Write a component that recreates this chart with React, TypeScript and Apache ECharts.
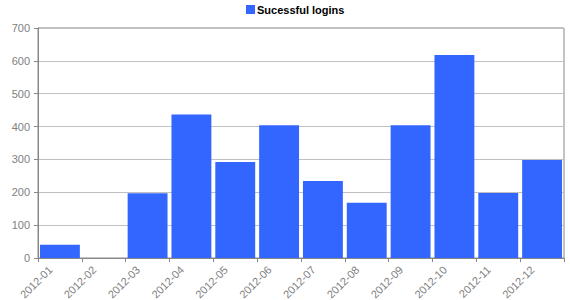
import React, { useEffect, useRef } from "react";
import * as echarts from "echarts";

const categories = [
  "2012-01", "2012-02", "2012-03", "2012-04", "2012-05", "2012-06",
  "2012-07", "2012-08", "2012-09", "2012-10", "2012-11", "2012-12",
];
const logins = [40, 0, 197, 437, 292, 404, 234, 168, 404, 618, 198, 298];
const seriesName = "Sucessful logins";

export default function App() {
  const ref = useRef<HTMLDivElement>(null);
  useEffect(() => {
    if (!ref.current) return;
    const chart = echarts.init(ref.current, null, { renderer: "svg" });
    chart.setOption({
      animation: false,
      textStyle: { fontFamily: "Arial, 'Liberation Sans', sans-serif" },
      legend: {
        show: true,
        left: 246,
        top: 4,
        padding: 0,
        itemWidth: 9,
        itemHeight: 9,
        itemGap: 2,
        icon: "rect",
        textStyle: { fontSize: 11, fontWeight: "bold", color: "#000", padding: [0, 0, 0, -3] },
        data: [seriesName],
      },
      grid: {
        left: 38,
        right: 6,
        top: 28,
        bottom: 42,
        show: true,
        borderColor: "#888",
        borderWidth: 1,
        outerBoundsMode: "none",
        containLabel: false,
      },
      xAxis: {
        type: "category",
        data: categories,
        axisLine: { lineStyle: { color: "#888" } },
        axisTick: { show: true, length: 4, lineStyle: { color: "#888" } },
        axisLabel: {
          rotate: 45,
          color: "#808080",
          fontSize: 11,
          margin: 8,
          interval: 0,
          verticalAlign: "bottom",
          padding: [0, 8, 0, 0],
        },
      },
      yAxis: {
        type: "value",
        min: 0,
        max: 700,
        interval: 100,
        axisLine: { show: true, lineStyle: { color: "#888" } },
        axisTick: { show: true, length: 4, lineStyle: { color: "#888" } },
        axisLabel: { color: "#808080", fontSize: 11, margin: 8 },
        splitLine: { lineStyle: { color: "#c0c0c0" } },
      },
      series: [
        {
          name: seriesName,
          type: "bar",
          data: logins,
          barCategoryGap: "9%",
          itemStyle: { color: "#3366ff" },
        },
      ],
    });
    return () => chart.dispose();
  }, []);
  return (
    <div style={{ position: "absolute", left: 0, top: 0 }}>
      <div ref={ref} style={{ width: 570, height: 300 }} />
    </div>
  );
}
